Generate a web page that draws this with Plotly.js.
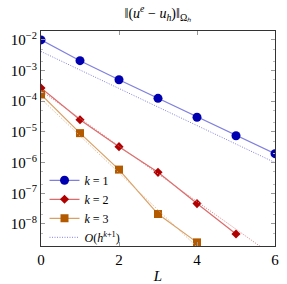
<!DOCTYPE html>
<html>
<head>
<meta charset="utf-8">
<script src="https://cdn.plot.ly/plotly-3.0.1.min.js"></script>
<style>html,body{margin:0;padding:0;background:#fff;}#chart{width:287px;height:284px;}</style>
</head>
<body>
<div id="chart"></div>
<script>
// Refinement levels
const levels = [0, 1, 2, 3, 4, 5, 6];
// Errors
const errK1 = [1.0e-2, 2.1e-3, 5.0e-4, 1.24e-4, 3.0e-5, 7.5e-6, 1.95e-6];
const levelsK2 = [0, 1, 2, 3, 4, 5];
const errK2 = [2.7e-4, 2.5e-5, 3.3e-6, 4.8e-7, 4.6e-8, 4.7e-9];
const levelsK3 = [0, 1, 2, 3, 4];
const errK3 = [1.66e-4, 9.1e-6, 5.9e-7, 2.1e-8, 2.5e-9];
// Reference slopes O(h^{k+1})
const refK1 = [4.2e-3, 1.05e-3, 2.6e-4, 6.6e-5, 1.6e-5, 4.1e-6, 1.0e-6];
const refK2 = [2.2e-4, 2.75e-5, 3.4e-6, 4.3e-7, 5.4e-8, 6.7e-9, 8.4e-10];
const levelsRef3 = [0, 1, 2, 3, 4, 5];
const refK3 = [1.2e-4, 7.5e-6, 4.7e-7, 2.9e-8, 1.8e-9, 1.1e-10];
// Tick labels
const yTickVals = [1e-2, 1e-3, 1e-4, 1e-5, 1e-6, 1e-7, 1e-8];
const yTickText = ['10<sup>−2</sup>', '10<sup>−3</sup>', '10<sup>−4</sup>', '10<sup>−5</sup>', '10<sup>−6</sup>', '10<sup>−7</sup>', '10<sup>−8</sup>'];
const xTickVals = [0, 2, 4, 6];

const serif = 'Liberation Serif';
const traces = [
  {x: levels, y: errK1, name: '<i>k</i> = 1', mode: 'lines+markers',
   line: {color: '#7f7fdf', width: 1.2}, marker: {symbol: 'circle', size: 9, color: '#0000b0'}},
  {x: levelsK2, y: errK2, name: '<i>k</i> = 2', mode: 'lines+markers',
   line: {color: '#dd6a6a', width: 1.2}, marker: {symbol: 'diamond', size: 7, color: '#b00000'}},
  {x: levelsK3, y: errK3, name: '<i>k</i> = 3', mode: 'lines+markers',
   line: {color: '#d9a066', width: 1.2}, marker: {symbol: 'square', size: 8, color: '#b35900'}},
  {x: levels, y: refK1, name: '<i>O</i>(<i>h</i><sup><i>k</i>+1</sup>)', mode: 'lines',
   line: {color: '#8080e6', width: 1, dash: '1px,1.5px'}},
  {x: levels, y: refK2, showlegend: false, mode: 'lines',
   line: {color: '#e08080', width: 1, dash: '1px,1.5px'}},
  {x: levelsRef3, y: refK3, showlegend: false, mode: 'lines',
   line: {color: '#e0b080', width: 1, dash: '1px,1.5px'}}
];

const layout = {
  width: 287, height: 284,
  margin: {l: 41, r: 12, t: 31, b: 38},
  paper_bgcolor: '#fff', plot_bgcolor: '#fff',
  font: {family: serif, size: 13, color: '#000'},
  title: {text: '‖(<i>u<sup>e</sup></i> − <i>u<sub>h</sub></i>)‖<sub>Ω<i>ₕ</i></sub>',
          font: {family: serif, size: 14}, x: 0.55, xanchor: 'center', y: 0.955, yanchor: 'middle'},
  xaxis: {range: [0, 6], tickvals: xTickVals, ticks: 'inside', ticklen: 4, tickcolor: '#999',
          showline: true, linecolor: '#333', linewidth: 1, mirror: 'ticks', showgrid: false, zeroline: false,
          tickfont: {family: serif, size: 15},
          title: {text: '<i>L</i>', font: {family: serif, size: 15}, standoff: 8}},
  yaxis: {type: 'log', range: [-8.72, -1.71], tickvals: yTickVals, ticktext: yTickText,
          ticks: 'inside', ticklen: 4, tickcolor: '#999', showline: true, linecolor: '#333', linewidth: 1,
          mirror: 'ticks', showgrid: false, zeroline: false, tickfont: {family: serif, size: 15},
          minor: {ticks: 'inside', ticklen: 2, tickcolor: '#bbb', showgrid: false}},
  legend: {x: 0.015, y: 0.373, xanchor: 'left', yanchor: 'top', bgcolor: 'rgba(0,0,0,0)',
           borderwidth: 0, font: {family: serif, size: 12}, itemwidth: 30, tracegroupgap: 0},
  showlegend: true
};

Plotly.newPlot('chart', traces, layout, {displayModeBar: false, staticPlot: true});
</script>
</body>
</html>
